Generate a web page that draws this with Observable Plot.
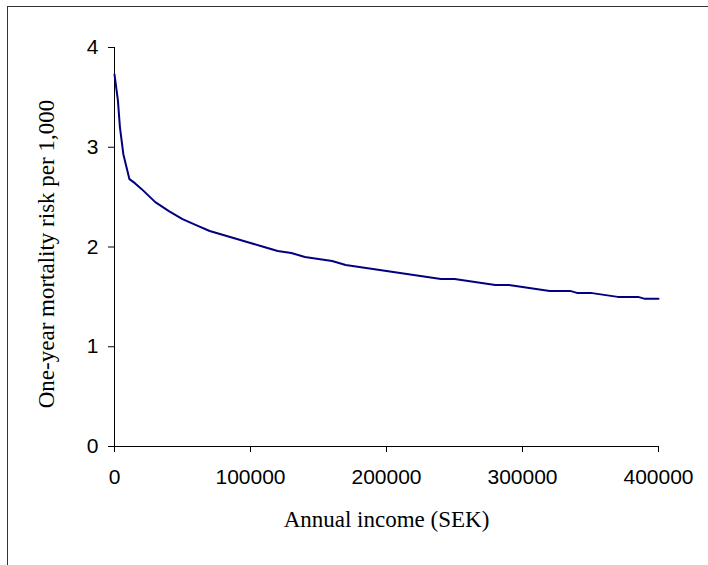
<!DOCTYPE html>
<html>
<head>
<meta charset="utf-8">
<script src="https://cdn.jsdelivr.net/npm/d3@7"></script>
<script src="https://cdn.jsdelivr.net/npm/@observablehq/plot@0.6"></script>
<style>
html, body { margin: 0; padding: 0; background: #fff; }
#wrap { position: relative; width: 708px; height: 565px; overflow: hidden; }
#chart { position: absolute; left: 0; top: 0; }
#frame { position: absolute; left: 7px; top: 6px; width: 740px; height: 620px;
  border-left: 1.5px solid #333; border-top: 1.5px solid #333; box-sizing: border-box; pointer-events: none; }
</style>
</head>
<body>
<div id="wrap"><div id="chart"></div><div id="frame"></div></div>
<script>
// Annual income (SEK)
const income = [0, 2500, 4000, 6500, 11000, 15000, 20000, 30000, 40000, 50000,
  60000, 70000, 80000, 90000, 100000, 110000, 120000, 130000, 140000, 150000,
  160000, 170000, 180000, 190000, 200000, 210000, 220000, 230000, 240000, 250000,
  260000, 270000, 280000, 290000, 300000, 310000, 320000, 335000, 340000, 350000,
  360000, 370000, 385000, 390000, 400000];
// One-year mortality risk per 1,000
const risk = [3.73, 3.47, 3.20, 2.93, 2.68, 2.64, 2.58, 2.45, 2.36, 2.28,
  2.22, 2.16, 2.12, 2.08, 2.04, 2.00, 1.96, 1.94, 1.90, 1.88,
  1.86, 1.82, 1.80, 1.78, 1.76, 1.74, 1.72, 1.70, 1.68, 1.68,
  1.66, 1.64, 1.62, 1.62, 1.60, 1.58, 1.56, 1.56, 1.54, 1.54,
  1.52, 1.50, 1.50, 1.48, 1.48];
const xTicks = [0, 100000, 200000, 300000, 400000];
const yTicks = [0, 1, 2, 3, 4];
const xTitle = "Annual income (SEK)";
const yTitle = "One-year mortality risk per 1,000";

const data = income.map((x, i) => ({income: x, risk: risk[i]}));

const chart = Plot.plot({
  width: 708,
  height: 565,
  marginLeft: 114,
  marginRight: 50,
  marginTop: 47,
  marginBottom: 119,
  style: {fontFamily: "'Liberation Sans', Arial, sans-serif", fontSize: "21px", background: "transparent", color: "#000"},
  x: {domain: [0, 400000]},
  y: {domain: [0, 4]},
  marks: [
    Plot.axisX({ticks: xTicks, tickFormat: d => String(d), tickSize: 6, tickPadding: 17, label: null, fontSize: 21}),
    Plot.axisY({ticks: yTicks, tickFormat: d => String(d), tickSize: 6, tickPadding: 10, label: null, fontSize: 21}),
    Plot.ruleY([0], {stroke: "#000"}),
    Plot.ruleX([0], {stroke: "#000"}),
    Plot.line(data, {x: "income", y: "risk", stroke: "#000080", strokeWidth: 2}),
    Plot.text([xTitle], {frameAnchor: "bottom", dy: 73, lineAnchor: "middle", fontFamily: "'Liberation Serif', 'Times New Roman', serif", fontSize: 23, fill: "#000"}),
    Plot.text([yTitle], {frameAnchor: "left", textAnchor: "middle", rotate: -90, dx: -68, dy: 7, lineAnchor: "middle", fontFamily: "'Liberation Serif', 'Times New Roman', serif", fontSize: 23, fill: "#000"})
  ]
});
document.getElementById("chart").appendChild(chart);
</script>
</body>
</html>
